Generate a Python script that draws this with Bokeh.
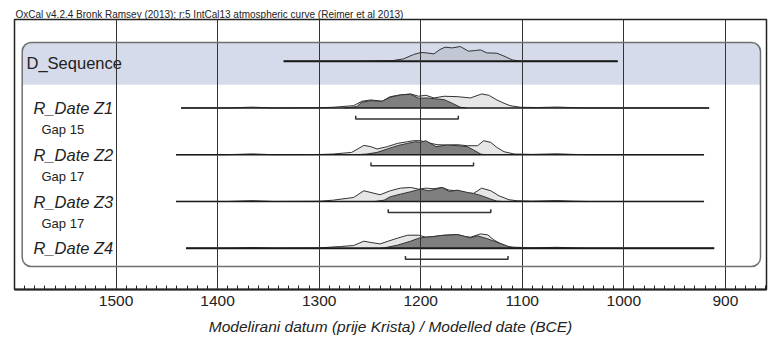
import numpy as np
from bokeh.plotting import figure
from bokeh.models import Range1d, FixedTicker, BoxAnnotation
from bokeh.core.properties import value
from bokeh.embed import file_html
from bokeh.resources import INLINE

FONT = "Liberation Sans"

# ---------------- data ----------------
title_text = "OxCal v4.2.4 Bronk Ramsey (2013); r:5 IntCal13 atmospheric curve (Reimer et al 2013)"
x_label = "Modelirani datum (prije Krista) / Modelled date (BCE)"
major_ticks = [1500, 1400, 1300, 1200, 1100, 1000, 900]

row_names = ["D_Sequence", "R_Date Z1", "R_Date Z2", "R_Date Z3", "R_Date Z4"]
gap_names = ["Gap 15", "Gap 17", "Gap 17"]

# full range line of each row (BCE)
range_start = [1335, 1436, 1441, 1441, 1431]
range_end = [1006, 916, 921, 921, 911]

# 95% range brackets under the R_Date rows (BCE)
bracket_from = [1264, 1249, 1232, 1215]
bracket_to = [1163, 1148, 1131, 1114]

# D_Sequence distribution
dseq_yr = [1335, 1260, 1240, 1227, 1217, 1207, 1200, 1194, 1187, 1181, 1176, 1169, 1161,
           1153, 1146, 1141, 1135, 1125, 1117, 1110, 1102, 1006]
dseq_p = [0, 0, 0.3, 0.7, 2.3, 6.7, 8.7, 8.3, 7.3, 11.7, 14, 13.3, 14.7,
          10, 10.7, 11.3, 8.3, 8, 4.7, 1.3, 0, 0]

# Z1
z1_light_yr = [1436, 1390, 1366, 1345, 1300, 1286, 1266, 1258, 1249, 1238, 1230, 1220, 1210, 1202,
               1195, 1187, 1177, 1164, 1151, 1140, 1133, 1125, 1118, 1112, 1102, 1085, 1066, 1050, 1035, 916]
z1_light_p = [0, 0, 0.8, 0, 0.2, 0.7, 2.3, 6.7, 8, 6.7, 11.3, 13, 14, 11.7,
              12.7, 10, 11.7, 11.3, 10, 14, 12.7, 8, 4.7, 2.3, 0.7, 0.4, 0.9, 0.3, 0, 0]
z1_dark_yr = [1275, 1263, 1258, 1249, 1238, 1230, 1220, 1210, 1202, 1194, 1184, 1177, 1169, 1161, 1155]
z1_dark_p = [0, 1.3, 5.7, 7.3, 6.7, 10.7, 13, 13.7, 9.7, 10, 9, 8.3, 4.7, 0.7, 0]

# Z2
z2_light_yr = [1441, 1390, 1366, 1345, 1300, 1286, 1268, 1256, 1249, 1243, 1233, 1223, 1213, 1207, 1200,
               1194, 1184, 1174, 1164, 1154, 1144, 1138, 1131, 1125, 1118, 1108, 1090, 1066, 1050, 1035, 921]
z2_light_p = [0, 0, 0.8, 0, 0.2, 0.7, 2.3, 9.3, 8, 5.7, 8, 11.3, 13, 14, 14,
              12.3, 10, 9.7, 10, 9, 9, 14, 12.3, 7.3, 3, 0.7, 0.3, 0.9, 0.3, 0, 0]
z2_dark_yr = [1262, 1253, 1243, 1233, 1223, 1213, 1205, 1200, 1195, 1185, 1174, 1164, 1154, 1148, 1141, 1137]
z2_dark_p = [0, 0.7, 2.3, 5.7, 9, 11.3, 13, 12.3, 14, 8, 9.7, 9, 8, 4.7, 0.7, 0]

# Z3
z3_light_yr = [1441, 1390, 1366, 1345, 1300, 1286, 1266, 1256, 1240, 1230, 1220, 1210, 1202, 1195, 1187,
               1179, 1172, 1164, 1154, 1148, 1140, 1131, 1123, 1113, 1105, 1090, 1066, 1050, 1035, 921]
z3_light_p = [0, 0, 0.8, 0, 0.2, 1.3, 4, 10.7, 6.7, 10.7, 13.3, 14, 12.3, 13.3, 12.7,
              14, 11.3, 10.7, 8.3, 8, 13.3, 10.7, 5.7, 1.7, 0.7, 0.3, 0.9, 0.3, 0, 0]
z3_dark_yr = [1245, 1236, 1230, 1220, 1210, 1200, 1192, 1185, 1179, 1172, 1164, 1154, 1148, 1140, 1131, 1125, 1120]
z3_dark_p = [0, 1.3, 4.7, 7.3, 9.7, 12.3, 10.7, 12.3, 14, 10, 11.3, 9, 8, 5.7, 2.3, 0.3, 0]

# Z4
z4_light_yr = [1431, 1390, 1366, 1345, 1300, 1279, 1266, 1256, 1249, 1240, 1233, 1223, 1213, 1202, 1195, 1187,
               1177, 1164, 1157, 1151, 1141, 1134, 1128, 1121, 1115, 1108, 1090, 1066, 1050, 1035, 911]
z4_light_p = [0, 0, 0.6, 0, 0.3, 1.7, 2.7, 7, 5.7, 4.3, 6.7, 10, 13, 13, 11, 11.7,
              13, 13.7, 11.7, 11, 14.3, 13.3, 8.3, 4.3, 1.7, 1, 0.3, 0.9, 0.3, 0, 0]
z4_dark_yr = [1240, 1236, 1223, 1210, 1202, 1195, 1187, 1180, 1174, 1164, 1157, 1151, 1144, 1134, 1125, 1116, 1110, 1106]
z4_dark_p = [0, 0.3, 3, 7, 10, 11, 11.7, 12.7, 13, 13.7, 12, 10.3, 12.3, 9.3, 6, 2.7, 0.3, 0]

light_rows = [(z1_light_yr, z1_light_p), (z2_light_yr, z2_light_p), (z3_light_yr, z3_light_p), (z4_light_yr, z4_light_p)]
dark_rows = [(z1_dark_yr, z1_dark_p), (z2_dark_yr, z2_dark_p), (z3_dark_yr, z3_dark_p), (z4_dark_yr, z4_dark_p)]

# ---------------- layout ----------------
X0, X1 = 1600, 859.5            # x range (BCE, decreasing to the right)
FRAME_W, FRAME_H = 752, 270
PPY = FRAME_W / (X0 - X1)       # px per year
ROW_PX = 46.75                  # px between rows
Y_TOP = 41.7 / ROW_PX
Y_BOT = Y_TOP - FRAME_H / ROW_PX
P_SCALE = 1.0 / ROW_PX          # probability units are px heights

def px2x(px):
    return X0 - px / PPY

def px2y(px):
    return Y_TOP - px / ROW_PX

p = figure(width=769, height=342, output_backend="svg", toolbar_location=None,
           x_range=Range1d(X0, X1), y_range=Range1d(Y_BOT, Y_TOP),
           y_axis_location=None, min_border_left=14, min_border_right=3,
           min_border_top=19, min_border_bottom=53,
           background_fill_color="white", border_fill_color="white")
p.outline_line_color = "#222222"
p.outline_line_width = 1.5

p.title.text = title_text
p.title.text_font = FONT
p.title.text_font_size = "10px"
p.title.text_font_style = "normal"
p.title.text_color = "#222222"
p.title.align = "left"
p.title.standoff = 0
p.title.offset = 1

# band + rounded box
band = BoxAnnotation(left=px2x(7.7), right=px2x(746), top=px2y(23), bottom=px2y(65.3),
                     fill_color="#d5dbea", fill_alpha=1, line_color=None,
                     border_radius=dict(top_left=9, top_right=9, bottom_right=0, bottom_left=0),
                     level="underlay")
p.add_layout(band)
box = BoxAnnotation(left=px2x(7.7), right=px2x(746), top=px2y(23), bottom=px2y(247),
                    fill_alpha=0, fill_color=None, line_color="#707070", line_width=1.5, line_alpha=1,
                    border_radius=9, level="annotation")
p.add_layout(box)

# x axis
minor = [float(v) for v in np.arange(1600, 855, -10)]
p.xaxis.ticker = FixedTicker(ticks=major_ticks, minor_ticks=minor)
p.xaxis.axis_line_width = 2
p.xaxis.axis_line_color = "#222222"
p.xaxis.major_tick_line_color = "#222222"
p.xaxis.minor_tick_line_color = "#222222"
p.xaxis.major_tick_in = 9
p.xaxis.major_tick_out = 0
p.xaxis.minor_tick_in = 4
p.xaxis.minor_tick_out = 0
p.xaxis.major_label_text_font = FONT
p.xaxis.major_label_text_font_size = "15.5px"
p.xaxis.major_label_text_color = "#222222"
p.xaxis.major_label_standoff = 6
p.xaxis.axis_label = x_label
p.xaxis.axis_label_text_font = FONT
p.xaxis.axis_label_text_font_size = "15.5px"
p.xaxis.axis_label_text_font_style = "italic"
p.xaxis.axis_label_text_color = "#222222"
p.xaxis.axis_label_standoff = 9

p.xgrid.ticker = FixedTicker(ticks=major_ticks)
p.xgrid.grid_line_color = "#333333"
p.xgrid.grid_line_width = 1
p.xgrid.level = "guide"
p.ygrid.visible = False

# D_Sequence distribution
base0 = 0.0
dseq_top = [base0 + v * P_SCALE for v in dseq_p]
p.varea(x=dseq_yr, y1=base0, y2=dseq_top, fill_color="#c2c7d4")
p.line(x=dseq_yr, y=dseq_top, line_color="#333333", line_width=1)

# R_Date rows
for k, ((ly, lp), (dy, dp)) in enumerate(zip(light_rows, dark_rows), start=1):
    base = -float(k)
    ltop = [base + v * P_SCALE for v in lp]
    dtop = [base + v * P_SCALE for v in dp]
    p.varea(x=ly, y1=base, y2=ltop, fill_color="#e6e6e6")
    p.line(x=ly, y=ltop, line_color="#333333", line_width=1)
    p.varea(x=dy, y1=base, y2=dtop, fill_color="#7f7f7f")
    p.line(x=dy, y=dtop, line_color="#333333", line_width=1)

# range lines
rows_y = [-float(k) for k in range(len(row_names))]
p.segment(x0=range_start, x1=range_end, y0=rows_y, y1=rows_y,
          line_color="#1a1a1a", line_width=[2, 1.5, 1.5, 1.5, 2])

# brackets
b_off = 11 / ROW_PX
b_tick = 3.3 / ROW_PX
bx, by = [], []
for k, (a, b) in enumerate(zip(bracket_from, bracket_to), start=1):
    yb = -k - b_off
    bx.append([a, a, b, b])
    by.append([yb + b_tick, yb, yb, yb + b_tick])
p.multi_line(xs=bx, ys=by, line_color="#333333", line_width=1.5)

# labels
p.text(x=[px2x(12)], y=[0 - 1.3 / ROW_PX], text=[row_names[0]], text_font=value(FONT),
       text_font_size="16.5px", text_baseline="middle", text_align="left", text_color="#222222")
p.text(x=[px2x(19)] * 4, y=[-float(k) - 0.2 / ROW_PX for k in range(1, 5)], text=row_names[1:],
       text_font=value(FONT), text_font_style="italic", text_font_size="16.5px",
       text_baseline="middle", text_align="left", text_color="#222222")
p.text(x=[px2x(27)] * 3, y=[-float(k) - 21.7 / ROW_PX for k in range(1, 4)], text=gap_names,
       text_font=value(FONT), text_font_size="13px",
       text_baseline="middle", text_align="left", text_color="#222222")

open("out.html", "w").write(file_html(p, INLINE))
